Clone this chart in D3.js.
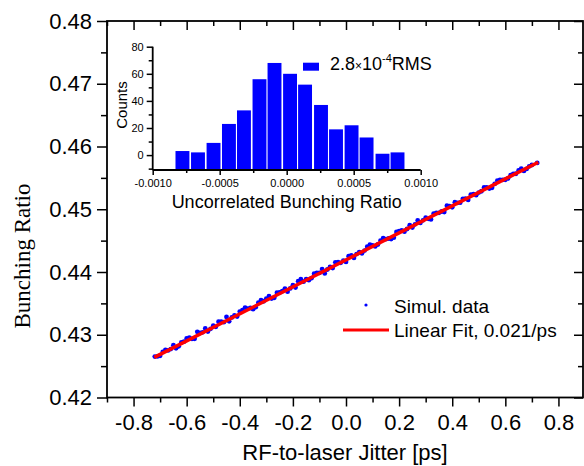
<!DOCTYPE html>
<html>
<head>
<meta charset="utf-8">
<script src="https://cdn.jsdelivr.net/npm/d3@7"></script>
<style>
  body { margin: 0; background: #fff; }
  svg { display: block; font-family: "Liberation Sans", Arial, sans-serif; }
  .axis path.domain { display: none; }
  .axis line { stroke: #000; stroke-width: 1.5; }
  .axis text { fill: #000; }
</style>
</head>
<body>
<div id="chart"></div>
<script>
// simulated points (RF-to-laser jitter [ps], bunching ratio)
const simulX = [
  -0.72, -0.70, -0.68, -0.66, -0.64, -0.62, -0.60, -0.58, -0.56, -0.54, -0.52, -0.50, -0.48,
  -0.46, -0.44, -0.42, -0.40, -0.38, -0.36, -0.34, -0.32, -0.30, -0.28, -0.26, -0.24, -0.22,
  -0.20, -0.18, -0.16, -0.14, -0.12, -0.10, -0.08, -0.06, -0.04, -0.02, 0.00, 0.02, 0.04,
  0.06, 0.08, 0.10, 0.12, 0.14, 0.16, 0.18, 0.20, 0.22, 0.24, 0.26, 0.28, 0.30, 0.32,
  0.34, 0.36, 0.38, 0.40, 0.42, 0.44, 0.46, 0.48, 0.50, 0.52, 0.54, 0.56, 0.58, 0.60,
  0.62, 0.64, 0.66, 0.68, 0.70, 0.72,
  -0.71, -0.69, -0.67, -0.65, -0.63, -0.61, -0.59, -0.57, -0.55, -0.53, -0.51, -0.49, -0.47,
  -0.45, -0.43, -0.41, -0.39, -0.37, -0.35, -0.33, -0.31, -0.29, -0.27, -0.25, -0.23, -0.21,
  -0.19, -0.17, -0.15, -0.13, -0.11, -0.09, -0.07, -0.05, -0.03, -0.01, 0.01, 0.03, 0.05,
  0.07, 0.09, 0.11, 0.13, 0.15, 0.17, 0.19, 0.21, 0.23, 0.25, 0.27, 0.29, 0.31, 0.33,
  0.35, 0.37, 0.39, 0.41, 0.43, 0.45, 0.47, 0.49, 0.51, 0.53, 0.55, 0.57, 0.59, 0.61,
  0.63, 0.65, 0.67, 0.69
];
const simulY = [
  0.42652, 0.42665, 0.42758, 0.42771, 0.42784, 0.42877, 0.42940, 0.42933, 0.43046, 0.43039,
  0.43052, 0.43145, 0.43208, 0.43201, 0.43214, 0.43307, 0.43370, 0.43433, 0.43426, 0.43439,
  0.43552, 0.43575, 0.43578, 0.43671, 0.43694, 0.43687, 0.43790, 0.43853, 0.43846, 0.43869,
  0.43972, 0.43985, 0.43978, 0.44081, 0.44154, 0.44147, 0.44160, 0.44263, 0.44286, 0.44299,
  0.44402, 0.44425, 0.44438, 0.44541, 0.44534, 0.44547, 0.44650, 0.44643, 0.44746, 0.44759,
  0.44782, 0.44865, 0.44838, 0.44941, 0.44964, 0.45057, 0.45030, 0.45103, 0.45166, 0.45149,
  0.45242, 0.45265, 0.45348, 0.45331, 0.45404, 0.45467, 0.45470, 0.45543, 0.45566, 0.45649,
  0.45642, 0.45705, 0.45738,
  0.42654, 0.42727, 0.42750, 0.42833, 0.42816, 0.42889, 0.42952, 0.42935, 0.43028, 0.43101,
  0.43094, 0.43127, 0.43210, 0.43283, 0.43276, 0.43289, 0.43392, 0.43415, 0.43408, 0.43511,
  0.43534, 0.43617, 0.43590, 0.43673, 0.43736, 0.43739, 0.43752, 0.43885, 0.43888, 0.43901,
  0.43984, 0.44047, 0.44040, 0.44063, 0.44156, 0.44179, 0.44252, 0.44225, 0.44318, 0.44341,
  0.44434, 0.44407, 0.44500, 0.44523, 0.44526, 0.44639, 0.44662, 0.44685, 0.44708, 0.44821,
  0.44824, 0.44847, 0.44930, 0.44943, 0.44956, 0.45049, 0.45112, 0.45105, 0.45168, 0.45231,
  0.45224, 0.45287, 0.45350, 0.45343, 0.45456, 0.45469, 0.45492, 0.45565, 0.45618, 0.45611,
  0.45684
];

// linear fit end points
const fitX = [-0.722, 0.724];
const fitY = [0.42640, 0.45750];

// histogram of uncorrelated bunching ratio
const binCenters = [-0.000778, -0.000662, -0.000546, -0.000431, -0.000319, -0.000203, -0.000091,
  0.000025, 0.000137, 0.000256, 0.000368, 0.000484, 0.000596, 0.000715, 0.000827];
const binCounts = [3, 2, 9, 23, 33, 56, 68, 60, 52, 37, 19, 22, 13, 1, 2];
const binWidth = 0.000115;

// tick labels
const xTicks = [-0.8, -0.6, -0.4, -0.2, 0.0, 0.2, 0.4, 0.6, 0.8];
const xMinor = [-0.9, -0.7, -0.5, -0.3, -0.1, 0.1, 0.3, 0.5, 0.7];
const yTicks = [0.42, 0.43, 0.44, 0.45, 0.46, 0.47, 0.48];
const yMinor = [0.425, 0.435, 0.445, 0.455, 0.465, 0.475];
const hxTicks = [-0.0010, -0.0005, 0.0000, 0.0005, 0.0010];
const hxMinor = [-0.00075, -0.00025, 0.00025, 0.00075];
const hyTicks = [0, 20, 40, 60, 80];
const hyMinor = [-10, 10, 30, 50, 70];

const width = 584, height = 466;
const plotL = 107, plotR = 583, plotT = 21, plotB = 397.5;

const svg = d3.select("#chart").append("svg")
    .attr("width", width)
    .attr("height", height);

const x = d3.scaleLinear().domain([-0.9, 0.9]).range([plotL, 585]);
const y = d3.scaleLinear().domain([0.42, 0.48]).range([plotB, plotT]);

// minor + major ticks on all four sides
function ticks(axisFn, scale, vals, size, fmt, pad, tx, ty) {
    const g = svg.append("g")
        .attr("class", "axis")
        .attr("transform", `translate(${tx},${ty})`)
        .call(axisFn(scale).tickValues(vals).tickSize(size).tickSizeOuter(0)
            .tickPadding(pad).tickFormat(fmt));
    return g;
}
const none = () => "";

ticks(d3.axisBottom, x, xMinor, 5, none, 0, 0, plotB);
ticks(d3.axisBottom, x, xTicks, 9, d => d.toFixed(1), 8, 0, plotB)
    .selectAll("text").style("font-size", "22px");
ticks(d3.axisTop, x, xMinor, -5, none, 0, 0, plotT);
ticks(d3.axisTop, x, xTicks, -9, none, 0, 0, plotT);

ticks(d3.axisLeft, y, yMinor, 6, none, 0, plotL, 0);
ticks(d3.axisLeft, y, yTicks, 10, d => d.toFixed(2), 5, plotL, 0)
    .selectAll("text").style("font-size", "22px");
ticks(d3.axisRight, y, yMinor, -5, none, 0, plotR, 0);
ticks(d3.axisRight, y, yTicks, -9, none, 0, plotR, 0);

// frame
svg.append("rect")
    .attr("x", plotL).attr("y", plotT)
    .attr("width", plotR - plotL).attr("height", plotB - plotT)
    .attr("fill", "none").attr("stroke", "#000").attr("stroke-width", 1.8);

// axis titles
svg.append("text")
    .attr("x", (plotL + plotR) / 2).attr("y", 460)
    .attr("text-anchor", "middle")
    .style("font-size", "22px")
    .text("RF-to-laser Jitter [ps]");

svg.append("text")
    .attr("transform", "translate(30,256) rotate(-90)")
    .attr("text-anchor", "middle")
    .style("font-family", "'Liberation Serif', 'Times New Roman', serif")
    .style("font-size", "23px")
    .text("Bunching Ratio");

// scatter
const pts = simulX.map((v, i) => ({ x: v, y: simulY[i] }));
svg.append("g")
    .selectAll("circle")
    .data(pts)
    .enter().append("circle")
    .attr("cx", d => x(d.x))
    .attr("cy", d => y(d.y))
    .attr("r", 2.4)
    .attr("fill", "#0000ff");

// fit line
svg.append("path")
    .datum(fitX.map((v, i) => [v, fitY[i]]))
    .attr("d", d3.line().x(d => x(d[0])).y(d => y(d[1])))
    .attr("stroke", "#ff0000")
    .attr("stroke-width", 3.5)
    .attr("fill", "none");

// main legend
svg.append("circle").attr("cx", 366).attr("cy", 305).attr("r", 1.6).attr("fill", "#0000ff");
svg.append("text").attr("x", 394).attr("y", 313).style("font-size", "19px").text("Simul. data");
svg.append("line").attr("x1", 343).attr("x2", 389).attr("y1", 330).attr("y2", 330)
    .attr("stroke", "#ff0000").attr("stroke-width", 3);
svg.append("text").attr("x", 394).attr("y", 337).style("font-size", "19px").text("Linear Fit, 0.021/ps");

// inset histogram
const hx = d3.scaleLinear().domain([-0.001, 0.001]).range([152.7, 420.7]);
const hy = d3.scaleLinear().domain([-11, 80]).range([170, 46.7]);
const hBase = 170;

const bw = hx(binWidth) - hx(0);
svg.append("g")
    .selectAll("rect")
    .data(binCenters.map((c, i) => ({ c: c, n: binCounts[i] })))
    .enter().append("rect")
    .attr("x", d => hx(d.c) - bw / 2 + 0.75)
    .attr("width", bw - 1.5)
    .attr("y", d => hy(d.n))
    .attr("height", d => hBase - hy(d.n))
    .attr("fill", "#0000ff");

ticks(d3.axisBottom, hx, hxMinor, 3, none, 0, 0, hBase);
ticks(d3.axisBottom, hx, hxTicks, 5, d => d.toFixed(4), 4, 0, hBase)
    .selectAll("text").style("font-size", "11px");
ticks(d3.axisLeft, hy, hyMinor, 4, none, 0, 152.7, 0);
ticks(d3.axisLeft, hy, hyTicks, 6, d => d, 3, 152.7, 0)
    .selectAll("text").style("font-size", "11px");

svg.append("line")
    .attr("x1", hx(-0.001)).attr("x2", hx(0.001)).attr("y1", hBase).attr("y2", hBase)
    .attr("stroke", "#000").attr("stroke-width", 1.8);
svg.append("line")
    .attr("x1", 152.7).attr("x2", 152.7).attr("y1", hy(80)).attr("y2", hBase)
    .attr("stroke", "#000").attr("stroke-width", 1.8);

svg.append("text")
    .attr("x", hx(0)).attr("y", 208)
    .attr("text-anchor", "middle")
    .style("font-size", "18px")
    .text("Uncorrelated Bunching Ratio");
svg.append("text")
    .attr("transform", "translate(127,105) rotate(-90)")
    .attr("text-anchor", "middle")
    .style("font-size", "15px")
    .text("Counts");

// inset legend
svg.append("rect").attr("x", 303).attr("y", 62.7).attr("width", 16).attr("height", 8).attr("fill", "#0000ff");
const lg = svg.append("text").attr("x", 330).attr("y", 69.5).style("font-size", "18px");
lg.append("tspan").text("2.8");
lg.append("tspan").style("font-size", "12px").text("×");
lg.append("tspan").text("10");
lg.append("tspan").style("font-size", "11px").attr("dy", -8).text("-4");
lg.append("tspan").attr("dy", 8).text("RMS");
</script>
</body>
</html>
